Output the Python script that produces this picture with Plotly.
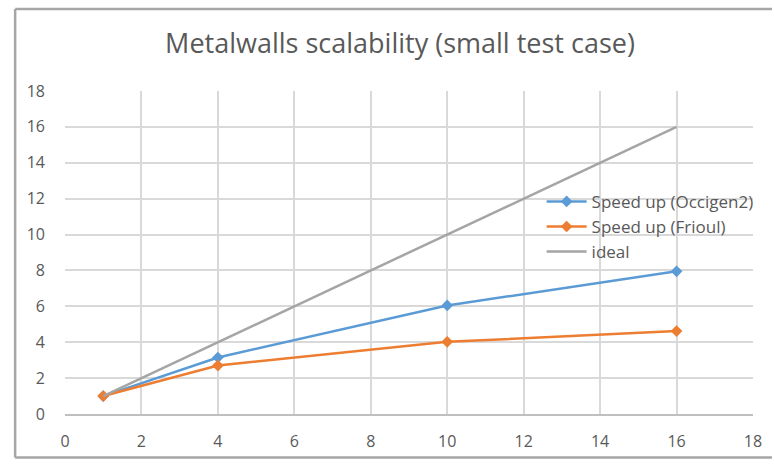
import plotly.graph_objects as go

x_cores = [1, 4, 10, 16]
occigen2 = [1.0, 3.15, 6.05, 7.95]
frioul = [1.0, 2.7, 4.02, 4.62]
ideal = [1, 4, 10, 16]
tick_vals = [0, 2, 4, 6, 8, 10, 12, 14, 16, 18]

FONT = "Open Sans"
fig = go.Figure()
fig.add_trace(go.Scatter(x=x_cores, y=occigen2, name="Speed up (Occigen2)", mode="lines+markers",
                         line=dict(color="#5b9bd5", width=2.5),
                         marker=dict(symbol="diamond", size=9, color="#5b9bd5")))
fig.add_trace(go.Scatter(x=x_cores, y=frioul, name="Speed up (Frioul)", mode="lines+markers",
                         line=dict(color="#ed7d31", width=2.5),
                         marker=dict(symbol="diamond", size=9, color="#ed7d31")))
fig.add_trace(go.Scatter(x=x_cores, y=ideal, name="ideal", mode="lines",
                         line=dict(color="#a5a5a5", width=2.5)))

axis_common = dict(range=[0, 18], tickvals=tick_vals, showgrid=True, gridcolor="#d9d9d9", gridwidth=1.5,
                   zeroline=False, tickfont=dict(family=FONT, size=16, color="#595959"),
                   ticks="", fixedrange=True)
fig.update_xaxes(**axis_common, showline=True, linecolor="#bfbfbf", linewidth=1.5, mirror=False,
                 ticklabelstandoff=12)
fig.update_yaxes(**axis_common, showline=False, ticklabelstandoff=19)

# frame (top, left, bottom edges; right edge lies outside the picture)
fx0, fx1 = (15 - 65) / 690, (774 - 65) / 690
fy0, fy1 = (418 - 462) / 327, (418 - 8) / 327
frame_line = dict(color="#a6a6a6", width=2.5)
shapes = [
    dict(type="line", xref="paper", yref="paper", x0=fx0, x1=fx1, y0=fy1, y1=fy1, line=frame_line, layer="below"),
    dict(type="line", xref="paper", yref="paper", x0=fx0, x1=fx0, y0=fy0, y1=fy1, line=frame_line, layer="below"),
    dict(type="line", xref="paper", yref="paper", x0=fx0, x1=fx1, y0=fy0, y1=fy0, line=frame_line, layer="below"),
]

fig.update_layout(
    width=774, height=464,
    margin=dict(l=65, r=19, t=91, b=46),
    paper_bgcolor="white", plot_bgcolor="white",
    title=dict(text="Metalwalls scalability (small test case)", x=400/774, xanchor="center",
               y=1 - 44/464, yanchor="middle", font=dict(family=FONT, size=27, color="#595959")),
    legend=dict(x=(543-65)/690, y=(418-185)/327, xanchor="left", yanchor="top",
                bgcolor="rgba(0,0,0,0)", font=dict(family=FONT, size=17, color="#595959"),
                tracegroupgap=0, itemwidth=40),
    showlegend=True,
    shapes=shapes,
)
fig.write_html("out.html",
               post_script="document.body.style.margin='0';document.body.style.overflow='hidden';")
